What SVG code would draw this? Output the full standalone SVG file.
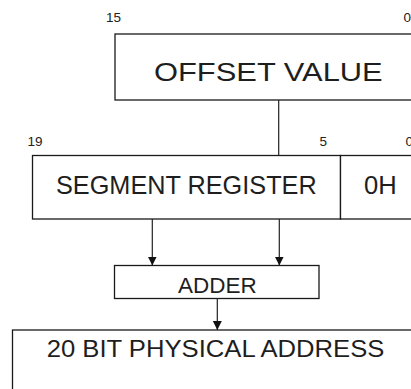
<svg xmlns="http://www.w3.org/2000/svg" width="411" height="389" viewBox="0 0 411 389">
  <style>
    .box { fill: #ffffff; stroke: #1a1a1a; stroke-width: 1.3; }
    .lbl { font-family: "Liberation Sans", Arial, sans-serif; fill: #1e1e1e; }
    .bit { font-family: "Liberation Sans", Arial, sans-serif; font-size: 13.5px; fill: #222222; }
    .wire { stroke: #222222; stroke-width: 1.2; fill: none; }
  </style>
  <defs>
    <marker id="arrow" markerWidth="10" markerHeight="10" refX="9" refY="4.5" orient="auto" markerUnits="userSpaceOnUse">
      <path d="M0,0 L9,4.5 L0,9 Z" fill="#111111"/>
    </marker>
  </defs>
  <rect width="411" height="389" fill="#ffffff"/>

  <!-- bit positions -->
  <text class="bit" x="106" y="21.5">15</text>
  <text class="bit" x="403.5" y="21.5">0</text>
  <text class="bit" x="27.5" y="146">19</text>
  <text class="bit" x="319.5" y="146">5</text>
  <text class="bit" x="405.5" y="146">0</text>

  <g id="offset">
    <rect class="box" x="115" y="34" width="310" height="66"/>
    <text class="lbl" x="154" y="80.5" font-size="25" textLength="228.7" lengthAdjust="spacingAndGlyphs">OFFSET VALUE</text>
  </g>

  <g id="segment">
    <rect class="box" x="32.5" y="155.5" width="308" height="63.5"/>
    <text class="lbl" x="56" y="194" font-size="26.5" textLength="260.7" lengthAdjust="spacingAndGlyphs">SEGMENT REGISTER</text>
  </g>

  <g id="zero-nibble">
    <rect class="box" x="340.5" y="155.5" width="90" height="63.5"/>
    <text class="lbl" x="364" y="194" font-size="26.5" textLength="32.7" lengthAdjust="spacingAndGlyphs">0H</text>
  </g>

  <g id="adder">
    <rect class="box" x="114.5" y="265.5" width="204.5" height="33"/>
    <text class="lbl" x="178" y="292.7" font-size="22" textLength="78.7" lengthAdjust="spacingAndGlyphs">ADDER</text>
  </g>

  <g id="physical">
    <rect class="box" x="12.5" y="330" width="420" height="80"/>
    <text class="lbl" x="46.7" y="356.5" font-size="24" textLength="337.7" lengthAdjust="spacingAndGlyphs">20 BIT PHYSICAL ADDRESS</text>
  </g>

  <g id="connectors">
    <line class="wire" x1="278.7" y1="100" x2="278.7" y2="155.5"/>
    <line class="wire" x1="152.3" y1="219" x2="152.3" y2="265.5" marker-end="url(#arrow)"/>
    <line class="wire" x1="279.3" y1="219" x2="279.3" y2="265.5" marker-end="url(#arrow)"/>
    <line class="wire" x1="217.3" y1="298.5" x2="217.3" y2="330" marker-end="url(#arrow)"/>
  </g>
</svg>
